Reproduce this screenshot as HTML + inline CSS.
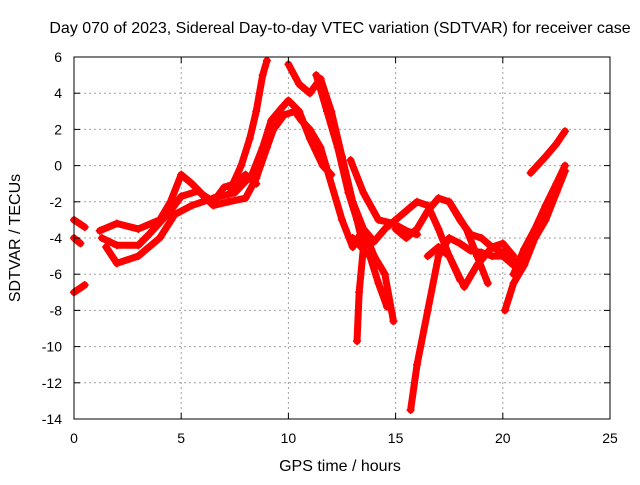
<!DOCTYPE html>
<html><head><meta charset="utf-8"><style>
body{margin:0;background:#fff}
svg text{font-family:"Liberation Sans",sans-serif;font-size:14px;fill:#000}
svg text.big{font-size:16px}
</style></head><body>
<svg id="chart" width="640" height="480" viewBox="0 0 640 480" xmlns="http://www.w3.org/2000/svg">
<rect width="640" height="480" fill="#fff"/>
<g id="grid"></g>
<g id="marks"></g>
<rect x="74" y="57" width="536" height="362" fill="none" stroke="#000" stroke-width="1"/>
<g id="axes"></g>
<text class="big" x="340" y="33" text-anchor="middle">Day 070 of 2023, Sidereal Day-to-day VTEC variation (SDTVAR) for receiver case</text>
<text class="big" x="340" y="471" text-anchor="middle">GPS time / hours</text>
<text class="big" transform="translate(20,238) rotate(-90)" text-anchor="middle">SDTVAR / TECUs</text>
</svg>
<script>
const xTicks=[0,5,10,15,20,25];
const yTicks=[6,4,2,0,-2,-4,-6,-8,-10,-12,-14];
const track1=[[0,-3],[0.5,-3.4]];
const track2=[[0,-4],[0.3,-4.3]];
const track3=[[0,-7],[0.5,-6.6]];
const track4=[[1.2,-3.6],[2,-3.2],[3,-3.5],[4,-3],[4.5,-2],[5,-0.5],[5.5,-1],[6,-1.6],[6.5,-2],[7,-1.2],[7.5,-1],[8,-0.5],[8.5,-1]];
const track5=[[1.3,-4],[2,-4.4],[3,-4.4],[3.5,-3.8],[4.5,-2.5],[5,-1.7],[5.8,-1.4],[6.5,-2.2],[7.2,-2],[8,-1.8],[8.5,-0.7],[9,1],[9.3,2],[9.8,2.8],[10.3,3],[10.6,2.5],[11,2],[11.5,1],[12.5,-3],[13,-4.5],[13.5,-3.5],[14,-5],[14.5,-6],[14.9,-8.6]];
const track6=[[1.5,-4.5],[2,-5.4],[3,-5],[4,-4],[4.7,-2.7],[5.5,-2.2],[6.5,-1.8],[7.5,-1.5],[8.3,-0.5],[8.8,1],[9.2,2.5],[9.7,3.2],[10,3.6],[10.5,3],[11,1.5],[11.6,0],[12,-0.5]];
const track7=[[7.3,-1.3],[7.8,0],[8.2,1.5],[8.5,3],[8.8,5],[9,5.8]];
const track8=[[10,5.6],[10.5,4.5],[11,4],[11.5,4.8],[12,3],[12.5,0.5],[13,-2],[13.5,-3.5],[14,-4.2],[14.5,-3.5],[15,-3],[15.5,-2.5],[16,-2],[16.5,-2.2],[17,-3.5],[17.5,-5],[18,-6.3]];
const track9=[[11.3,5],[11.8,3],[12.3,1],[12.8,-1.5],[13.2,-3],[13.5,-4.5],[13.3,-7],[13.2,-9.7]];
const track10=[[13,-4],[13.8,-5],[14.2,-6.5],[14.6,-7.8]];
const track11=[[15.7,-13.5],[16,-11],[16.5,-8],[17,-5],[17.5,-4],[18,-4.3],[18.5,-4.7],[19,-4.8],[19.5,-5],[20,-5],[20.5,-5.5]];
const track12=[[16.5,-5],[17,-4.5],[17.5,-5],[18.2,-6.7],[18.8,-5.5],[19.5,-4.5],[20.3,-5],[20.8,-5.5]];
const track13=[[17.5,-2],[18.3,-3.5],[18.8,-5],[19.3,-6.5]];
const track14=[[20.1,-8],[20.5,-6.5],[21,-5.5],[21.5,-4],[22,-3],[22.5,-1.5],[22.9,-0.3]];
const track15=[[20.5,-6],[21,-4.6],[21.5,-3.5],[22,-2.2],[22.5,-1],[22.9,0]];
const track16=[[21.3,-0.4],[22,0.5],[22.5,1.2],[22.9,1.9]];
const track17=[[15,-3.5],[15.5,-4],[16,-3.5],[16.5,-2.5],[17,-1.8],[17.5,-2],[18,-3],[18.5,-3.8],[19,-4],[19.5,-4.5],[20,-4.3],[20.5,-5]];
const track18=[[12.9,0.3],[13.5,-1.5],[14.2,-3],[14.9,-3.2],[15.5,-3.6],[16,-3.8]];
const tracks=[track1,track2,track3,track4,track5,track6,track7,track8,track9,track10,track11,track12,track13,track14,track15,track16,track17,track18];

const X=v=>74+v*536/25;
const Y=v=>57+(6-v)*362/20;
const NS="http://www.w3.org/2000/svg";
const grid=document.getElementById('grid'),axes=document.getElementById('axes'),marks=document.getElementById('marks');
function mk(t,a,p){const e=document.createElementNS(NS,t);for(const k in a)e.setAttribute(k,a[k]);p.appendChild(e);return e;}
xTicks.forEach(t=>{
  const x=X(t);
  if(t>0&&t<25){const g=mk('line',{x1:x,x2:x,y1:57,y2:419,stroke:'#a0a0a0','stroke-dasharray':'2,3'},grid);
  
  }
  mk('line',{x1:x,x2:x,y1:419,y2:413,stroke:'#000'},axes);
  mk('line',{x1:x,x2:x,y1:57,y2:63,stroke:'#000'},axes);
  const l=mk('text',{x:x,y:443,'text-anchor':'middle'},axes);l.textContent=t;
  
  
});
yTicks.forEach(t=>{
  const y=Y(t);
  if(t<6&&t>-14){const g=mk('line',{x1:74,x2:610,y1:y,y2:y,stroke:'#a0a0a0','stroke-dasharray':'2,3'},grid);
  
  }
  mk('line',{x1:74,x2:80,y1:y,y2:y,stroke:'#000'},axes);
  mk('line',{x1:604,x2:610,y1:y,y2:y,stroke:'#000'},axes);
  const l=mk('text',{x:62,y:y+5,'text-anchor':'end'},axes);l.textContent=t;
  
  
});
tracks.forEach((tr,i)=>{
  const p=mk('polyline',{points:tr.map(d=>X(d[0])+','+Y(d[1])).join(' '),fill:'none',stroke:'#ff0000','stroke-width':7,'stroke-linejoin':'round','stroke-linecap':'round'},marks);
  
  
  tr.forEach(d=>{
    const x=X(d[0]),y=Y(d[1]);
    mk('path',{d:`M${x-4},${y}H${x+4}M${x},${y-4}V${y+4}`,stroke:'#ff0000','stroke-width':1.5},marks);
  });
});
</script>
</body></html>
